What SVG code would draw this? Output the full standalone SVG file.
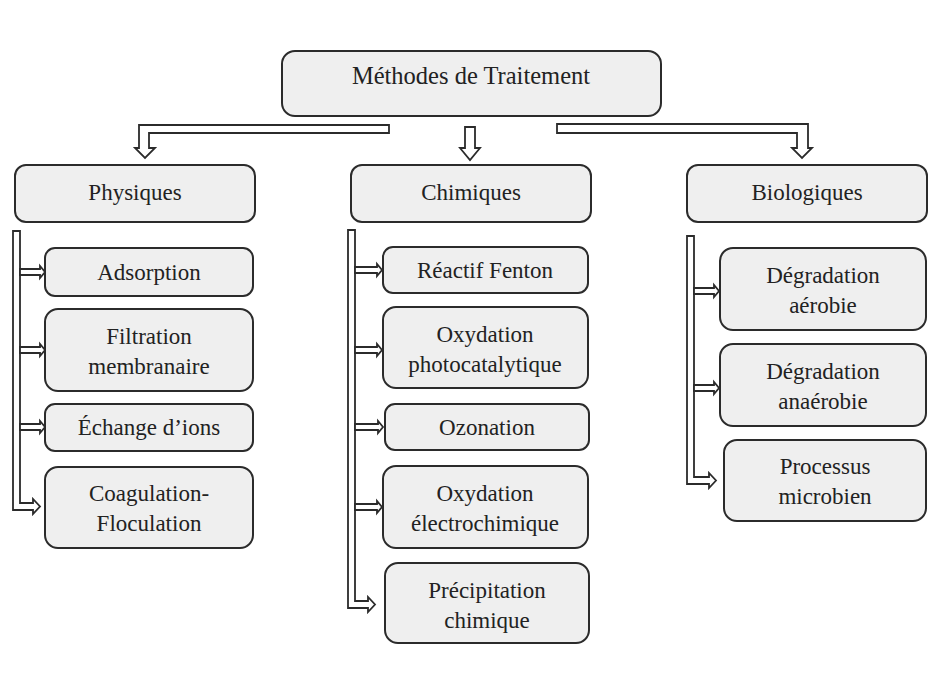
<svg xmlns="http://www.w3.org/2000/svg" width="930" height="686" viewBox="0 0 930 686">
<style>
.box{fill:#efefef;stroke:#2b2b2b;stroke-width:2}
.arr{fill:#fff;stroke:#2b2b2b;stroke-width:1.8;stroke-linejoin:miter}
</style>
<rect width="930" height="686" fill="#fff"/>
<g id="connectors">
<polygon class="arr" points="389,125 139,125 139,148 135,148 145,158 155,148 149,148 149,133 389,133"/>
<polygon class="arr" points="465,127 475,127 475,148 480,148 470,160 460,148 465,148"/>
<polygon class="arr" points="557,124 808,124 808,148 812,148 802,158 792,148 797,148 797,133 557,133"/>
<polygon class="arr" points="13,231 20,231 20,503 33,503 33,499 40,506.5 33,514 33,510 13,510"/>
<polygon class="arr" points="20,269 40,269 40,266 45,272 40,278 40,275 20,275"/>
<polygon class="arr" points="20,347 40,347 40,344 45,350 40,356 40,353 20,353"/>
<polygon class="arr" points="20,424 40,424 40,421 45,427 40,433 40,430 20,430"/>
<polygon class="arr" points="348,230 355,230 355,601 368,601 368,597 375,604.5 368,612 368,608 348,608"/>
<polygon class="arr" points="355,267 377,267 377,264 382,270 377,276 377,273 355,273"/>
<polygon class="arr" points="355,347 377,347 377,344 382,350 377,356 377,353 355,353"/>
<polygon class="arr" points="355,424 378,424 378,421 383,427 378,433 378,430 355,430"/>
<polygon class="arr" points="355,504 377,504 377,501 382,507 377,513 377,510 355,510"/>
<polygon class="arr" points="687,236 694,236 694,477 709,477 709,473 716,480.5 709,488 709,484 687,484"/>
<polygon class="arr" points="694,288 714,288 714,285 719,291 714,297 714,294 694,294"/>
<polygon class="arr" points="694,385 714,385 714,382 719,388 714,394 714,391 694,391"/>
</g>
<g font-family="Liberation Serif, Times New Roman, serif" font-size="23" fill="#222" text-anchor="middle">
<g id="n-root"><rect class="box" x="282" y="51" width="379" height="65" rx="13"/><text x="471" y="84" font-size="24.5">Méthodes de Traitement</text></g>
<g id="n-phys"><rect class="box" x="15" y="165" width="240" height="57" rx="11"/><text x="135" y="200">Physiques</text></g>
<g id="n-chim"><rect class="box" x="351" y="165" width="240" height="57" rx="11"/><text x="471" y="200">Chimiques</text></g>
<g id="n-bio"><rect class="box" x="687" y="165" width="240" height="57" rx="11"/><text x="807" y="200">Biologiques</text></g>
<g id="n-ads"><rect class="box" x="45" y="248" width="208" height="48" rx="10"/><text x="149" y="280">Adsorption</text></g>
<g id="n-filt"><rect class="box" x="45" y="309" width="208" height="82" rx="13"/><text x="149" y="344">Filtration</text><text x="149" y="374">membranaire</text></g>
<g id="n-ech"><rect class="box" x="45" y="404" width="208" height="47" rx="10"/><text x="149" y="435">Échange d’ions</text></g>
<g id="n-coag"><rect class="box" x="45" y="467" width="208" height="81" rx="13"/><text x="149" y="501">Coagulation-</text><text x="149" y="531">Floculation</text></g>
<g id="n-fent"><rect class="box" x="383" y="247" width="205" height="46" rx="10"/><text x="485" y="278">Réactif Fenton</text></g>
<g id="n-photo"><rect class="box" x="383" y="307" width="205" height="81" rx="13"/><text x="485" y="342">Oxydation</text><text x="485" y="372">photocatalytique</text></g>
<g id="n-ozo"><rect class="box" x="385" y="404" width="204" height="46" rx="10"/><text x="487" y="435">Ozonation</text></g>
<g id="n-elec"><rect class="box" x="383" y="466" width="205" height="82" rx="13"/><text x="485" y="501">Oxydation</text><text x="485" y="531">électrochimique</text></g>
<g id="n-prec"><rect class="box" x="385" y="563" width="204" height="80" rx="13"/><text x="487" y="598">Précipitation</text><text x="487" y="628">chimique</text></g>
<g id="n-aer"><rect class="box" x="720" y="248" width="206" height="82" rx="13"/><text x="823" y="283">Dégradation</text><text x="823" y="313">aérobie</text></g>
<g id="n-anaer"><rect class="box" x="720" y="344" width="206" height="82" rx="13"/><text x="823" y="379">Dégradation</text><text x="823" y="409">anaérobie</text></g>
<g id="n-micro"><rect class="box" x="724" y="440" width="202" height="81" rx="13"/><text x="825" y="474">Processus</text><text x="825" y="504">microbien</text></g>
</g>
</svg>
